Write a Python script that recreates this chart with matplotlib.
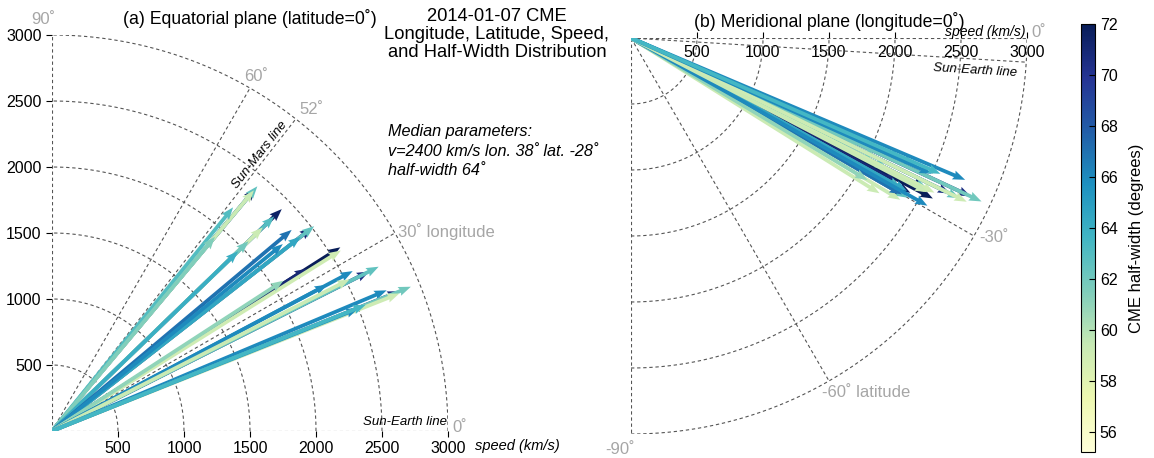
import numpy as np
import matplotlib.pyplot as plt
from matplotlib.colors import Normalize

plt.rcParams['font.family'] = ['Liberation Sans', 'DejaVu Sans']

# CME ensemble members: longitude, latitude (deg), speed (km/s), half-width (deg)
lon = [50, 44, 38, 32.5, 32.5, 26.7, 21.9,
       50, 50, 51, 50, 44, 44, 44, 44, 40, 38, 38, 39,
       32, 33, 28, 26.7, 28, 27, 22.8, 21.9, 21.6, 21.8, 21.9]
lat = [-30, -29, -27, -28, -28.5, -26, -25,
       -30, -31, -27, -25, -29, -32, -26, -24, -30, -27, -29, -24,
       -27, -31, -29.5, -26, -24, -27.5, -23, -25, -26, -24.3, -23.7]
speed = [2400, 2420, 2500, 2590, 2290, 2690, 2840,
         2420, 2380, 2180, 1920, 2340, 2220, 2070, 1960, 2370, 2520, 2390, 2250,
         2580, 2090, 2580, 2770, 2360, 2530, 2750, 2930, 2830, 2500, 2560]
halfwidth = [71.5, 71.5, 71, 72, 71, 70.5, 70.5,
             62.5, 59.3, 63, 61.5, 63, 59.2, 62, 64, 67, 62.5, 64.5, 66,
             59, 61, 66, 62.5, 66, 59.3, 66, 62, 59.1, 66, 63.5]

median_v, median_lon, median_lat, median_hw = 2400, 38, -28, 64
mars_lon = 52
earth_lat = -3.5
speed_ticks = [500, 1000, 1500, 2000, 2500, 3000]
cbar_ticks = [56, 58, 60, 62, 64, 66, 68, 70, 72]

W, H = 1154, 458
fig = plt.figure(figsize=(W / 100, H / 100), dpi=100)
cmap = plt.get_cmap('YlGnBu')
norm = Normalize(vmin=55.2, vmax=72)
grey = '#a6a6a6'
gridkw = dict(color='#555555', lw=0.8, ls=(0, (3, 2.5)))

lon_r = np.radians(lon)
lat_r = np.radians(lat)
v = np.array(speed)
cols = cmap(norm(halfwidth))
qkw = dict(angles='xy', scale_units='xy', scale=1, width=0.0095,
           headwidth=2.5, headlength=3.3, headaxislength=3.0, zorder=3)

# ---------- (a) equatorial plane ----------
ax1 = fig.add_axes([52 / W, (H - 431) / H, 396 / W, 396 / H])
ax1.set_xlim(0, 3000)
ax1.set_ylim(0, 3000)
th = np.linspace(0, np.pi / 2, 200)
for r in speed_ticks:
    ax1.plot(r * np.cos(th), r * np.sin(th), **gridkw)
for a in [0, 30, mars_lon, 60, 90]:
    ax1.plot([0, 3000 * np.cos(np.radians(a))], [0, 3000 * np.sin(np.radians(a))], **gridkw)
ax1.quiver(np.zeros(len(v)), np.zeros(len(v)), v * np.cos(lon_r), v * np.sin(lon_r),
           color=cols, **qkw)
for s in ax1.spines.values():
    s.set_visible(False)
ax1.set_xticks(speed_ticks)
ax1.set_yticks(speed_ticks)
ax1.tick_params(labelsize=11.5, length=4, width=0.8)
ax1.set_title('(a) Equatorial plane (latitude=0˚)', fontsize=12.7, pad=8)

ax1.text(-68, 3114, '90˚', color=grey, fontsize=12, ha='center', va='center', clip_on=False)
ax1.text(1550, 2685, '60˚', color=grey, fontsize=12, ha='center', va='center')
ax1.text(1962, 2432, '52˚', color=grey, fontsize=12, ha='center', va='center')
ax1.text(2621, 1508, '30˚ longitude', color=grey, fontsize=12, ha='left', va='center',
         clip_on=False)
ax1.text(3030, 23, '0˚', color=grey, fontsize=12, ha='left', va='center', clip_on=False)
ax1.text(2990, 25, 'Sun-Earth line', style='italic', fontsize=9.5, ha='right', va='bottom')
rm = 2620
ax1.text(rm * np.cos(np.radians(mars_lon)), rm * np.sin(np.radians(mars_lon)), 'Sun-Mars line',
         style='italic', fontsize=9.5, rotation=mars_lon, rotation_mode='anchor',
         ha='center', va='bottom')
ax1.text(3205, -114, 'speed (km/s)', style='italic', fontsize=10.5, ha='left', va='center',
         clip_on=False)

# ---------- (b) meridional plane ----------
ax2 = fig.add_axes([631 / W, (H - 434) / H, 396 / W, 396 / H])
ax2.set_xlim(0, 3000)
ax2.set_ylim(-3000, 0)
th2 = np.linspace(-np.pi / 2, 0, 200)
for r in speed_ticks:
    ax2.plot(r * np.cos(th2), r * np.sin(th2), **gridkw)
for a in [0, earth_lat, -30, -60, -90]:
    ax2.plot([0, 3000 * np.cos(np.radians(a))], [0, 3000 * np.sin(np.radians(a))], **gridkw)
ax2.quiver(np.zeros(len(v)), np.zeros(len(v)), v * np.cos(lat_r), v * np.sin(lat_r),
           color=cols, **qkw)
for s in ax2.spines.values():
    s.set_visible(False)
ax2.set_yticks([])
ax2.set_xticks(speed_ticks)
ax2.tick_params(axis='x', top=True, labeltop=True, bottom=False, labelbottom=False,
                direction='out', length=4, width=0.8, pad=-20, labelsize=11.5)
ax2.set_title('(b) Meridional plane (longitude=0˚)', fontsize=12.7, pad=8)

ax2.text(3030, 45, '0˚', color=grey, fontsize=12, ha='left', va='center', clip_on=False)
ax2.text(2990, 45, 'speed (km/s)', style='italic', fontsize=10, ha='right', va='center',
         clip_on=False)
ax2.text(2606, -245, 'Sun-Earth line', style='italic', fontsize=9.5, ha='center',
         va='center', rotation=earth_lat)
ax2.text(2636, -1508, '-30˚', color=grey, fontsize=12, ha='left', va='center', clip_on=False)
ax2.text(1447, -2689, '-60˚ latitude', color=grey, fontsize=12, ha='left', va='center')
ax2.text(-83, -3114, '-90˚', color=grey, fontsize=12, ha='center', va='center', clip_on=False)

# ---------- titles and annotation ----------
fig.text(497 / W, 1 - 8 / H, '2014-01-07 CME\nLongitude, Latitude, Speed,\nand Half-Width Distribution',
         ha='center', va='top', fontsize=13.2, linespacing=1.07)
fig.text(388 / W, 1 - 124 / H,
         'Median parameters:\nv=%d km/s lon. %d˚ lat. %d˚\nhalf-width %d˚'
         % (median_v, median_lon, median_lat, median_hw),
         ha='left', va='top', fontsize=11.7, style='italic', linespacing=1.38)

# ---------- colorbar ----------
cax = fig.add_axes([1081 / W, (H - 452) / H, 14 / W, 428 / H])
sm = plt.cm.ScalarMappable(norm=norm, cmap=cmap)
cb = fig.colorbar(sm, cax=cax, ticks=cbar_ticks)
cb.ax.tick_params(labelsize=11.5, direction='in', length=4, width=0.8)
cb.outline.set_linewidth(0.8)
cb.set_label('CME half-width (degrees)', fontsize=12, labelpad=8)

fig.savefig('out.png', dpi=100)
